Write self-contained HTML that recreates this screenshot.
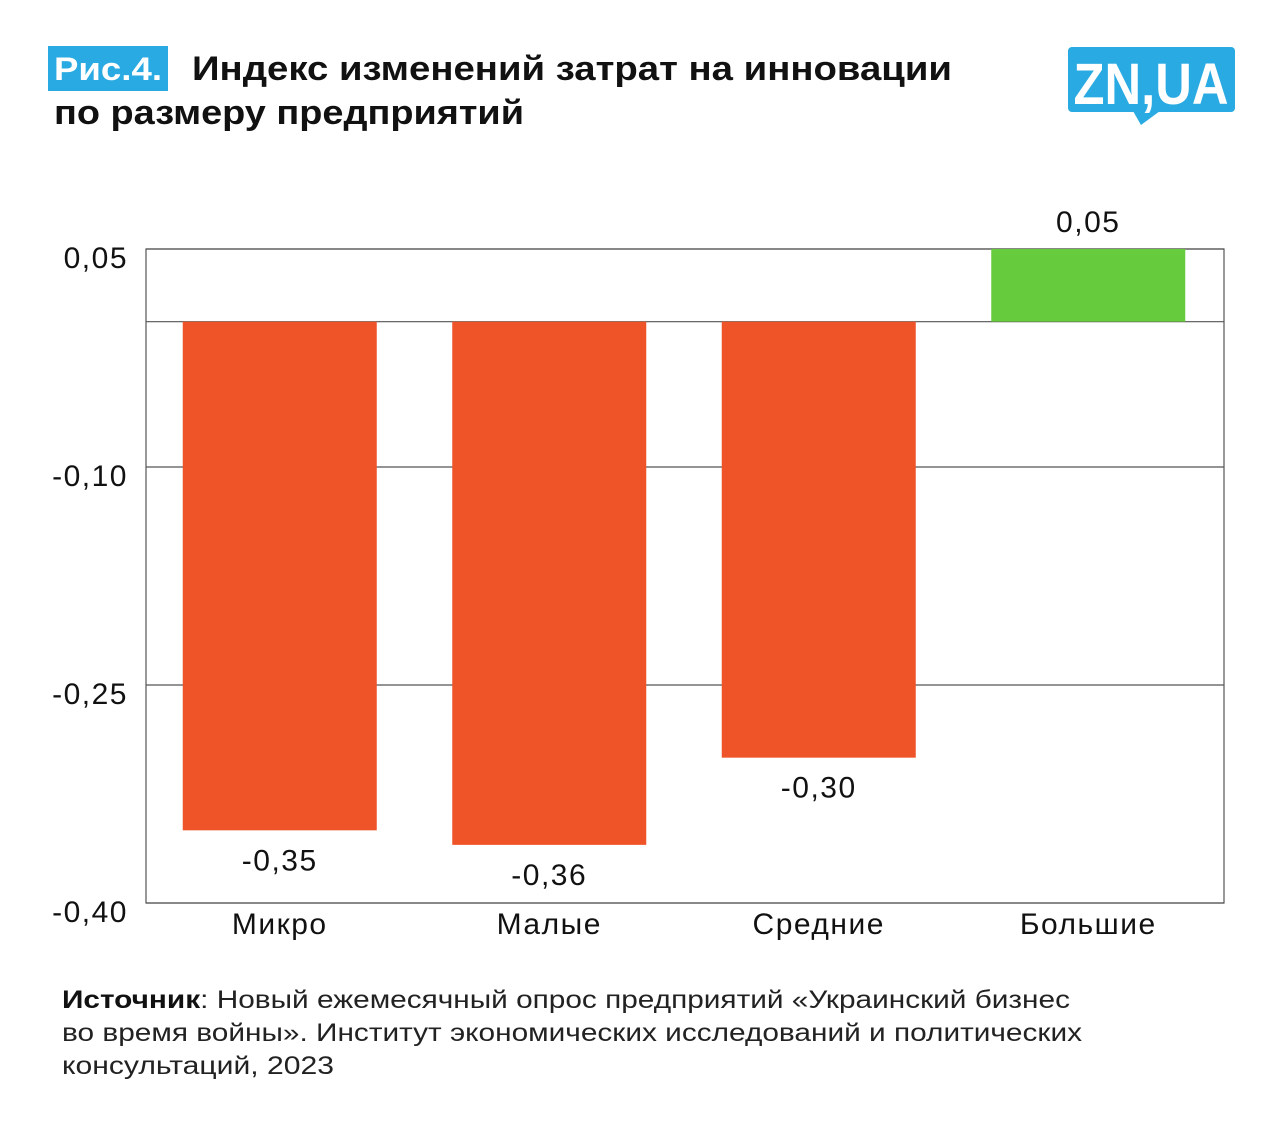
<!DOCTYPE html>
<html><head><meta charset="utf-8"><style>
html,body{margin:0;padding:0;background:#fff;}
svg{display:block;font-family:"Liberation Sans","DejaVu Sans",sans-serif;}
</style></head><body>
<svg id="chart" width="1280" height="1143" viewBox="0 0 1280 1143" xmlns="http://www.w3.org/2000/svg">
  <rect x="48" y="46" width="120" height="45" fill="#29aae2"/>
  <text x="54" y="80" font-size="32" font-weight="bold" fill="#fff" textLength="108" lengthAdjust="spacingAndGlyphs">Рис.4.</text>
  <text x="192" y="80" font-size="34" font-weight="bold" fill="#111" textLength="760" lengthAdjust="spacingAndGlyphs">Индекс изменений затрат на инновации</text>
  <text x="54" y="124" font-size="34" font-weight="bold" fill="#111" textLength="470" lengthAdjust="spacingAndGlyphs">по размеру предприятий</text>
  <g>
    <rect x="1068" y="47" width="167" height="65" rx="4" fill="#29aae2"/>
    <polygon points="1133,111 1160,111 1141,125" fill="#29aae2"/>
    <text x="1151" y="104" font-size="58" font-weight="bold" fill="#fff" text-anchor="middle" textLength="155" lengthAdjust="spacingAndGlyphs">ZN,UA</text>
  </g>
  <g id="grid"></g>
  <g id="bars"></g>
  <g id="labels"></g>
  <g font-size="25" fill="#222">
    <text x="62" y="1008" textLength="1008" lengthAdjust="spacingAndGlyphs"><tspan font-weight="bold" fill="#111">Источник</tspan>: Новый ежемесячный опрос предприятий «Украинский бизнес</text>
    <text x="62" y="1041" textLength="1020" lengthAdjust="spacingAndGlyphs">во время войны». Институт экономических исследований и политических</text>
    <text x="62" y="1074" textLength="272" lengthAdjust="spacingAndGlyphs">консультаций, 2023</text>
  </g>
</svg>
<script>
const categories = ["Микро", "Малые", "Средние", "Большие"];
const values = [-0.35, -0.36, -0.30, 0.05];
const valueLabels = ["-0,35", "-0,36", "-0,30", "0,05"];
const tickValues = [0.05, 0, -0.10, -0.25, -0.40];
const tickLabels = ["0,05", "", "-0,10", "-0,25", "-0,40"];

const NS = "http://www.w3.org/2000/svg";
const L = 146, R = 1224, T = 249, B = 903, yMax = 0.05, yMin = -0.40;
const y = v => T + (yMax - v) / (yMax - yMin) * (B - T);
const band = (R - L) / categories.length;
const barW = 194;
const x = i => L + band * i + (band - barW) / 2 - 1;
function mk(tag, attrs, parent) {
  const e = document.createElementNS(NS, tag);
  for (const k in attrs) e.setAttribute(k, attrs[k]);
  parent.appendChild(e);
  return e;
}
const grid = document.getElementById('grid');
const bars = document.getElementById('bars');
const labels = document.getElementById('labels');
tickValues.forEach((v, i) => {
  const ln = mk('line', {x1: L, x2: R, y1: y(v), y2: y(v), stroke: '#555', 'stroke-width': 1.2}, grid);
  
  
  if (tickLabels[i]) {
    const t = mk('text', {x: 128, y: y(v) + 19, 'font-size': 30, 'letter-spacing': 1.5, 'text-anchor': 'end', fill: '#111'}, labels);
    t.textContent = tickLabels[i];
    
    
  }
});
const fr = mk('rect', {x: L, y: T, width: R - L, height: B - T, fill: 'none', stroke: '#555', 'stroke-width': 1.2}, grid);


categories.forEach((c, i) => {
  const v = values[i];
  const top = Math.min(y(v), y(0)), h = Math.abs(y(v) - y(0));
  const b = mk('rect', {x: x(i), y: top, width: barW, height: h, fill: v >= 0 ? '#66cc3d' : '#ef5428'}, bars);
  
  
  const vl = mk('text', {x: x(i) + barW / 2, y: v >= 0 ? y(v) - 17 : y(v) + 40, 'font-size': 30, 'letter-spacing': 1.5, 'text-anchor': 'middle', fill: '#111'}, labels);
  vl.textContent = valueLabels[i];
  
  
  const cl = mk('text', {x: x(i) + barW / 2, y: 934, 'font-size': 30, 'letter-spacing': 1.5, 'text-anchor': 'middle', fill: '#111'}, labels);
  cl.textContent = c;
  
  
});
</script>
</body></html>
